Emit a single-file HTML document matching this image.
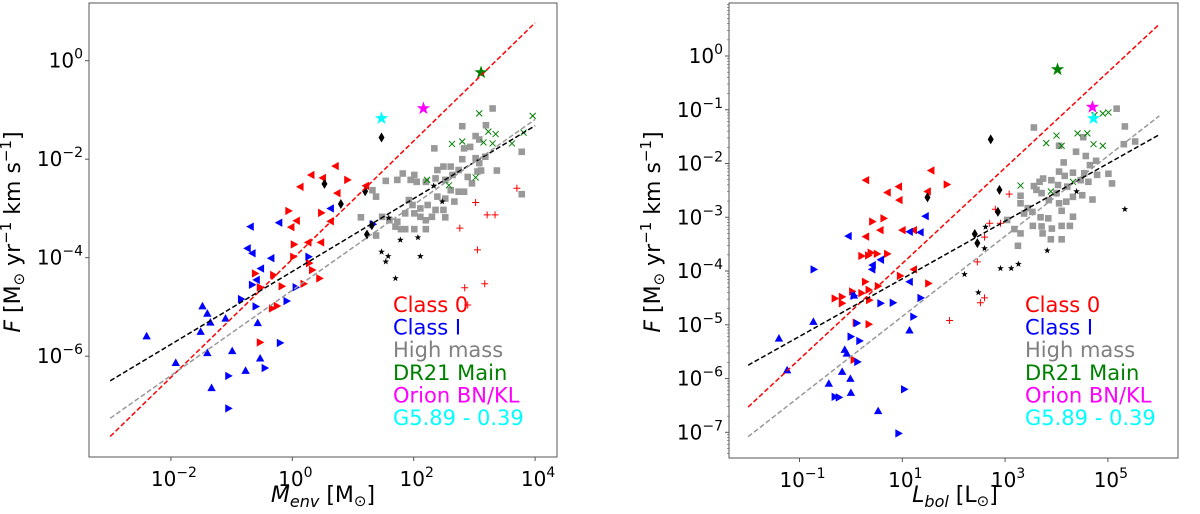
<!DOCTYPE html>
<html><head><meta charset="utf-8">
<style>
html,body{margin:0;padding:0;background:#fff;}
svg{display:block;font-family:"DejaVu Sans","Liberation Sans",sans-serif;}
</style></head>
<body>
<svg id="fig" width="1200" height="514" viewBox="0 0 1200 514" xmlns="http://www.w3.org/2000/svg"></svg>
<script>
// ===== Left panel data (log10 values) =====
const leftC0LeftL=[0.71,0.31,0.50,0.13,0.74,0.07,-0.02,0.63,0.47,0.26,1.21];
const leftC0LeftF=[-2.14,-2.32,-2.38,-2.56,-2.69,-3.25,-3.38,-3.26,-3.69,-3.69,-2.54];
const leftC0RightL=[-0.06,0.91,0.48,0.03,0.02,0.28,0.33,0.19,-0.61,-0.31,-0.17,-0.33,-0.25,-0.53,0.45,-0.53];
const leftC0RightF=[-3.05,-2.42,-3.09,-3.73,-3.98,-4.11,-4.25,-4.53,-4.32,-4.35,-4.58,-5.03,-4.98,-5.72,-4.42,-4.60];
const leftC1LeftL=[-0.69,-0.22,-0.74,-0.66,-0.35,-0.52,-0.59,0.63];
const leftC1LeftF=[-3.37,-3.29,-3.81,-3.91,-4.01,-4.22,-4.45,-3.00];
const leftC1RightL=[0.27,0.06,-0.84,-0.60,-0.09,-0.66,-0.20,-0.45,-1.05,-1.05,1.33];
const leftC1RightF=[-3.98,-4.60,-4.84,-4.99,-4.88,-4.55,-5.73,-6.24,-6.40,-7.06,-3.32];
const leftC1UpL=[-2.40,-1.48,-1.40,-1.35,-1.51,-1.10,-1.92,-1.40,-0.99,-0.53,-0.77,-1.33,-0.57];
const leftC1UpF=[-5.59,-4.98,-5.13,-5.31,-5.50,-5.23,-6.13,-5.93,-5.89,-6.04,-6.29,-6.64,-5.32];
const leftDiamL=[1.47,0.53,0.80,1.20,1.31,1.23];
const leftDiamF=[-1.56,-2.50,-2.91,-2.65,-3.34,-3.53];
const leftBStarL=[2.33,2.47,1.59,1.78,2.07,1.47,1.58,1.54,2.11,1.70];
const leftBStarF=[-2.54,-2.86,-3.19,-3.64,-3.59,-3.88,-3.97,-4.08,-3.97,-4.42];
const leftHML=[3.30,2.80,3.19,3.02,3.08,2.34,2.83,2.93,3.78,3.18,2.80,3.02,3.08,3.37,2.61,2.49,2.39,2.01,1.82,1.73,1.95,2.05,1.54,2.20,2.36,2.52,2.64,2.74,2.89,2.96,3.05,3.11,1.32,1.38,2.61,2.74,2.83,2.67,2.52,2.39,1.92,1.98,2.11,2.23,1.86,2.01,2.11,2.20,2.36,2.49,2.52,2.30,1.13,1.73,1.70,1.79,1.86,2.01,2.20,1.38,1.60,3.78,1.48];
const leftHMF=[-0.97,-1.33,-1.31,-1.53,-1.60,-1.78,-1.78,-1.75,-1.85,-1.95,-2.00,-1.98,-2.08,-2.23,-2.15,-2.15,-2.22,-2.32,-2.29,-2.42,-2.42,-2.46,-2.44,-2.46,-2.39,-2.42,-2.32,-2.22,-2.36,-2.49,-2.25,-2.23,-2.63,-2.76,-2.63,-2.66,-2.66,-2.86,-2.80,-2.76,-2.83,-2.93,-3.00,-2.93,-3.10,-3.10,-3.17,-3.24,-3.03,-3.03,-3.18,-3.17,-3.18,-3.27,-3.37,-3.42,-3.42,-3.42,-3.42,-3.55,-3.24,-2.71,-3.17];
const leftDRL=[3.08,3.23,3.35,3.15,3.30,2.63,2.80,3.62,3.96,3.81,2.22,2.58,3.02];
const leftDRF=[-1.07,-1.44,-1.49,-1.66,-1.68,-1.69,-1.64,-1.68,-1.12,-1.46,-2.42,-2.53,-2.37];
const leftPlusL=[3.70,3.02,3.21,3.34,2.76,3.05,2.84,3.17,2.89];
const leftPlusF=[-2.59,-2.88,-3.13,-3.13,-3.40,-3.84,-4.61,-4.53,-4.96];
const leftBigStarL=[3.11,2.16,1.47];
const leftBigStarF=[-0.24,-0.97,-1.17];
const leftFitSlope=[1.2,0.74,0.867];
const leftFitIcpt=[-4.03,-4.28,-4.66];

// ===== Right panel data (log10 values) =====
const rightC0LeftL=[0.29,0.71,0.57,0.93,0.94,1.56,1.49,1.00,1.22,0.29,1.22];
const rightC0LeftF=[-2.31,-2.54,-3.24,-2.43,-2.68,-2.13,-2.52,-3.24,-3.24,-3.36,-3.97];
const rightC0RightL=[0.42,0.64,1.87,0.39,0.34,0.21,0.71,0.51,0.96,0.28,0.53,1.51,-0.31,-0.17,-0.17,0.03,0.21,0.35,0.36,0.10,0.35,0.06];
const rightC0RightF=[-3.08,-3.02,-2.39,-3.66,-3.71,-3.72,-3.68,-3.68,-4.09,-4.20,-4.28,-4.23,-4.51,-4.48,-4.60,-4.38,-4.41,-4.35,-4.54,-4.96,-4.99,-5.65];
const rightC1LeftL=[-0.05,0.41,0.58,1.14,1.35,1.45,1.14,0.42];
const rightC1LeftF=[-3.35,-3.97,-3.79,-3.27,-3.28,-2.98,-4.20,-3.89];
const rightC1RightL=[-0.72,0.06,0.58,0.82,1.36,1.22,0.00,0.17,0.13,-0.31,-0.23,1.04,0.93,0.12];
const rightC1RightF=[-3.97,-4.46,-4.60,-4.59,-4.50,-4.85,-5.22,-5.30,-5.69,-6.34,-6.35,-6.20,-7.02,-4.97];
const rightC1UpL=[-1.40,-1.24,-0.73,-0.12,-0.08,-0.17,-0.43,-0.01,0.00,0.53,1.14,0.06];
const rightC1UpF=[-5.25,-5.84,-4.94,-5.46,-5.53,-5.87,-6.09,-6.00,-6.26,-6.60,-5.10,-4.45];
const rightDiamL=[2.72,1.49,2.89,2.86,2.41,2.46];
const rightDiamF=[-1.55,-2.63,-2.49,-2.90,-3.31,-3.48];
const rightBStarL=[4.39,5.33,3.82,2.62,2.60,2.91,3.12,3.26,2.21,2.48];
const rightBStarF=[-2.52,-2.85,-3.62,-3.18,-3.58,-3.95,-3.95,-3.87,-4.06,-4.40];
const rightHML=[3.56,5.17,5.33,5.53,5.31,4.05,4.52,4.38,4.57,4.77,4.65,4.14,5.01,5.08,4.79,4.54,4.32,4.05,4.16,3.90,3.74,3.67,3.56,3.61,4.03,4.21,4.47,4.62,4.50,4.70,4.32,4.19,4.05,3.85,3.71,3.30,3.30,3.37,3.53,3.69,3.84,4.10,4.32,3.71,3.91,4.10,4.26,3.54,3.18,3.30,3.73,3.89,4.10,3.25,3.04,3.44,4.00];
const rightHMF=[-1.33,-0.98,-1.31,-1.59,-1.64,-1.67,-1.51,-1.78,-1.86,-1.95,-2.03,-1.98,-2.19,-2.37,-2.21,-2.18,-2.17,-2.15,-2.23,-2.31,-2.28,-2.34,-2.42,-2.49,-2.40,-2.43,-2.31,-2.34,-2.59,-2.67,-2.62,-2.71,-2.74,-2.68,-2.55,-2.60,-2.74,-2.93,-2.90,-3.00,-3.02,-2.88,-2.99,-3.17,-3.21,-3.16,-3.16,-3.16,-3.22,-3.30,-3.30,-3.41,-3.41,-3.53,-3.05,-2.83,-2.55];
const rightDRL=[3.80,4.00,4.10,4.41,4.60,4.72,4.90,4.74,4.90,5.01,3.30,3.89,4.32];
const rightDRF=[-1.62,-1.48,-1.67,-1.44,-1.44,-1.64,-1.67,-1.10,-1.07,-1.05,-2.41,-2.52,-2.34];
const rightPlusL=[3.08,2.81,2.70,2.91,2.60,2.46,2.60,2.52,1.92];
const rightPlusF=[-2.57,-2.85,-3.11,-3.11,-3.37,-3.83,-4.50,-4.59,-4.92];
const rightBigStarL=[4.02,4.70,4.72];
const rightBigStarF=[-0.25,-0.95,-1.16];
const rightFitSlope=[0.89,0.536,0.746];
const rightFitIcpt=[-4.75,-4.68,-5.59];

const legendLabels=["Class 0","Class I","High mass","DR21 Main","Orion BN/KL","G5.89 - 0.39"];
const legendColors=["#ff0000","#0000ff","#808080","#008000","#ff00ff","#00ffff"];
const bigStarColors=["#008000","#ff00ff","#00ffff"];
const fitColors=["#ff0000","#000000","#999999"];

const NS="http://www.w3.org/2000/svg";
const svg=document.getElementById('fig');
function mk(tag,attrs,parent){const e=document.createElementNS(NS,tag);for(const k in attrs)e.setAttribute(k,attrs[k]);(parent||svg).appendChild(e);return e;}

function triPts(x,y,dir,s){
  if(dir==='up')return `${x},${y-s} ${x-s},${y+s*0.8} ${x+s},${y+s*0.8}`;
  if(dir==='left')return `${x-s},${y} ${x+s*0.8},${y-s} ${x+s*0.8},${y+s}`;
  return `${x+s},${y} ${x-s*0.8},${y-s} ${x-s*0.8},${y+s}`;
}
function starPts(x,y,r){let p=[];for(let i=0;i<10;i++){const a=-Math.PI/2+i*Math.PI/5;const rr=i%2?r*0.4:r;p.push((x+rr*Math.cos(a)).toFixed(1)+','+(y+rr*Math.sin(a)).toFixed(1));}return p.join(' ');}
function expStr(t){return t<0?'−'+(-t):String(t);}

function panel(cfg){
  const g=mk('g',{});
  
  
  const X=cfg.X,Y=cfg.Y,b=cfg.box;
  const clipId=cfg.name+'-clip';
  const cp=mk('clipPath',{id:clipId},g);mk('rect',{x:b[0],y:b[1],width:b[2]-b[0],height:b[3]-b[1]},cp);
  const pg=mk('g',{'clip-path':`url(#${clipId})`},g);
  function tri(Ls,Fs,dir,col,nm){Ls.forEach((l,i)=>{const e=mk('polygon',{points:triPts(X(l),Y(Fs[i]),dir,4.2),fill:col},pg);
    
    });}
  tri(cfg.c0l[0],cfg.c0l[1],'left','#ff0000','class0-point');
  tri(cfg.c0r[0],cfg.c0r[1],'right','#ff0000','class0-point');
  tri(cfg.c1l[0],cfg.c1l[1],'left','#0000ff','class1-point');
  tri(cfg.c1r[0],cfg.c1r[1],'right','#0000ff','class1-point');
  tri(cfg.c1u[0],cfg.c1u[1],'up','#0000ff','class1-point');
  cfg.hm[0].forEach((l,i)=>{const e=mk('rect',{x:X(l)-3.3,y:Y(cfg.hm[1][i])-3.3,width:6.6,height:6.6,fill:'#999999'},pg);
    
    });
  cfg.dr[0].forEach((l,i)=>{const x=X(l),y=Y(cfg.dr[1][i]);const e=mk('path',{d:`M${x-3},${y-3}L${x+3},${y+3}M${x-3},${y+3}L${x+3},${y-3}`,stroke:'#008000','stroke-width':1},pg);
    
    });
  cfg.pl[0].forEach((l,i)=>{const x=X(l),y=Y(cfg.pl[1][i]);const e=mk('path',{d:`M${x-3.5},${y}L${x+3.5},${y}M${x},${y-3.5}L${x},${y+3.5}`,stroke:'#ff0000','stroke-width':1},pg);
    
    });
  cfg.dm[0].forEach((l,i)=>{const x=X(l),y=Y(cfg.dm[1][i]);const e=mk('polygon',{points:`${x},${y-5} ${x+3},${y} ${x},${y+5} ${x-3},${y}`,fill:'#000'},pg);
    
    });
  cfg.bs[0].forEach((l,i)=>{const e=mk('polygon',{points:starPts(X(l),Y(cfg.bs[1][i]),3.5),fill:'#000'},pg);
    
    });
  cfg.big[0].forEach((l,i)=>{const e=mk('polygon',{points:starPts(X(l),Y(cfg.big[1][i]),7),fill:bigStarColors[i]},pg);
    
    });
  cfg.fitS.forEach((s,i)=>{const l0=cfg.fitR[0],l1=cfg.fitR[1];
    const e=mk('line',{x1:X(l0),y1:Y(s*l0+cfg.fitI[i]),x2:X(l1),y2:Y(s*l1+cfg.fitI[i]),stroke:fitColors[i],'stroke-width':1.5,'stroke-dasharray':'5,2.5'},pg);
    
    });
  const fr=mk('rect',{x:b[0],y:b[1],width:b[2]-b[0],height:b[3]-b[1],fill:'none',stroke:'#555','stroke-width':1},g);
  
  
  cfg.xt.forEach(t=>{const x=X(t);mk('line',{x1:x,y1:b[3],x2:x,y2:b[3]+4,stroke:'#555'},g);
    const tx=mk('text',{x:x+3,y:b[3]+29,'text-anchor':'middle','font-size':20},g);
    
    
    tx.innerHTML=`10<tspan dy="-9" font-size="14">${expStr(t)}</tspan>`;});
  if(cfg.minor){for(let d=cfg.yRange[0];d<cfg.yRange[1];d++)for(let k=2;k<10;k++){const y=Y(d+Math.log10(k));if(y>b[1]&&y<b[3])mk('line',{x1:b[0]-2,y1:y,x2:b[0],y2:y,stroke:'#555','stroke-width':0.6},g);}}
  cfg.yt.forEach(t=>{const y=Y(t);mk('line',{x1:b[0]-4,y1:y,x2:b[0],y2:y,stroke:'#555'},g);
    const tx=mk('text',{x:b[0]-6,y:y+7,'text-anchor':'end','font-size':20},g);
    
    
    tx.innerHTML=`10<tspan dy="-9" font-size="14">${expStr(t)}</tspan>`;});
  const xl=mk('text',{x:cfg.xlab[0],y:cfg.xlab[1],'text-anchor':'middle','font-size':22},g);
  
  
  xl.innerHTML=cfg.xlabHtml;
  const yl=mk('text',{x:0,y:0,'text-anchor':'middle','font-size':22,transform:`translate(${cfg.ylab[0]},${cfg.ylab[1]}) rotate(-90)`},g);
  
  
  yl.innerHTML='<tspan font-style="italic">F</tspan> [M<tspan dy="4" font-size="15">⊙</tspan><tspan dy="-4"> yr</tspan><tspan dy="-9" font-size="15">−1</tspan><tspan dy="9"> km s</tspan><tspan dy="-9" font-size="15">−1</tspan><tspan dy="9">]</tspan>';
  legendLabels.forEach((lab,i)=>{const t=mk('text',{x:cfg.leg[0],y:cfg.leg[1]+i*22.6,'font-size':21,fill:legendColors[i]},g);
    
    
    t.textContent=lab;});
}

panel({name:'left-panel',box:[89,3,557,457],
  X:l=>292.3+60.7*l,Y:f=>60.7-49.25*f,
  c0l:[leftC0LeftL,leftC0LeftF],c0r:[leftC0RightL,leftC0RightF],
  c1l:[leftC1LeftL,leftC1LeftF],c1r:[leftC1RightL,leftC1RightF],c1u:[leftC1UpL,leftC1UpF],
  hm:[leftHML,leftHMF],dr:[leftDRL,leftDRF],pl:[leftPlusL,leftPlusF],dm:[leftDiamL,leftDiamF],bs:[leftBStarL,leftBStarF],big:[leftBigStarL,leftBigStarF],
  fitS:leftFitSlope,fitI:leftFitIcpt,fitR:[-3,4],
  xt:[-2,0,2,4],yt:[0,-2,-4,-6],minor:false,yRange:[-9,2],
  xlab:[323,502],xlabHtml:'<tspan font-style="italic">M</tspan><tspan dy="5" font-size="16" font-style="italic">env</tspan><tspan dy="-5"> [M</tspan><tspan dy="4" font-size="15">⊙</tspan><tspan dy="-4">]</tspan>',
  ylab:[20,232],leg:[393,312]});

panel({name:'right-panel',box:[729,3,1178,458],
  X:l=>850.9+51.4*l,Y:f=>56-53.76*f,
  c0l:[rightC0LeftL,rightC0LeftF],c0r:[rightC0RightL,rightC0RightF],
  c1l:[rightC1LeftL,rightC1LeftF],c1r:[rightC1RightL,rightC1RightF],c1u:[rightC1UpL,rightC1UpF],
  hm:[rightHML,rightHMF],dr:[rightDRL,rightDRF],pl:[rightPlusL,rightPlusF],dm:[rightDiamL,rightDiamF],bs:[rightBStarL,rightBStarF],big:[rightBigStarL,rightBigStarF],
  fitS:rightFitSlope,fitI:rightFitIcpt,fitR:[-2,6],
  xt:[-1,1,3,5],yt:[0,-1,-2,-3,-4,-5,-6,-7],minor:true,yRange:[-8,1],
  xlab:[955,502],xlabHtml:'<tspan font-style="italic">L</tspan><tspan dy="5" font-size="16" font-style="italic">bol</tspan><tspan dy="-5"> [L</tspan><tspan dy="4" font-size="15">⊙</tspan><tspan dy="-4">]</tspan>',
  ylab:[660,232],leg:[1025,312]});
</script>
</body></html>
